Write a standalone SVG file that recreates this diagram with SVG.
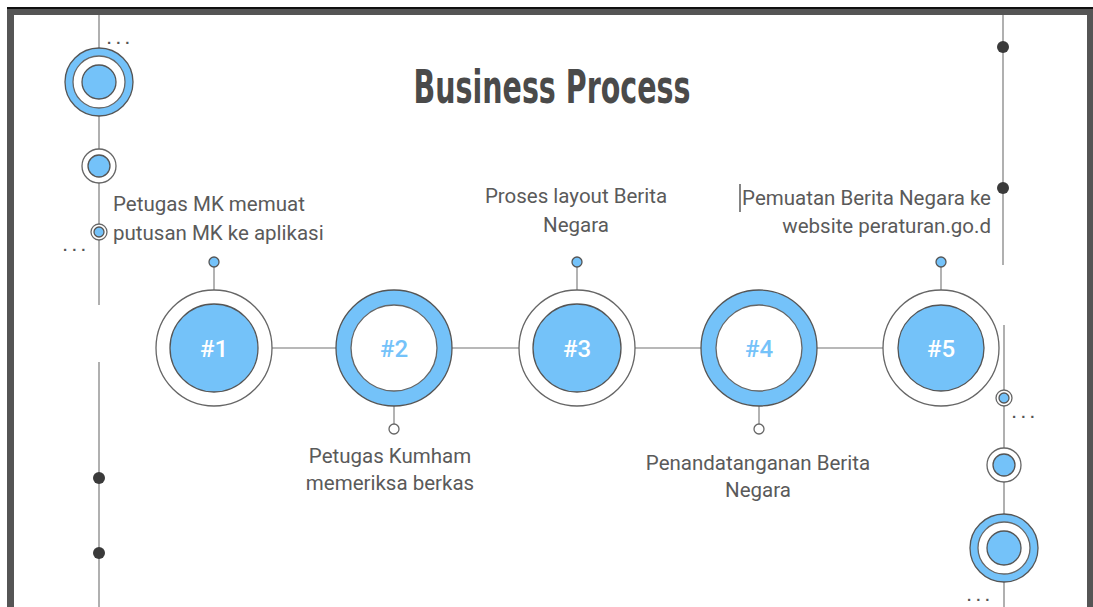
<svg xmlns="http://www.w3.org/2000/svg" width="1093" height="607" viewBox="0 0 1093 607">
  <style>
    .rail { stroke: #b0b0b0; stroke-width: 2; fill: none; }
    .link { stroke: #a0a0a0; stroke-width: 1.6; fill: none; }
    .blue { fill: #74c2f9; stroke: #555; stroke-width: 1.3; }
    .white { fill: #fff; stroke: #666; stroke-width: 1.3; }
    .dot { fill: #3a3a3a; }
    .label { font-family: Roboto, "Liberation Sans", sans-serif; font-size: 20.5px; fill: #5a5a5a; }
    .num { font-family: Roboto, "Liberation Sans", sans-serif; font-size: 24px; font-weight: 500; text-anchor: middle; }
    .ell { font-family: "Liberation Sans", sans-serif; font-size: 15px; font-weight: bold; fill: #555; letter-spacing: 5px; }
  </style>

  <!-- window frame -->
  <rect x="0" y="0" width="1093" height="607" fill="#fff"/>
  <rect x="7" y="7" width="1086" height="600" fill="#555"/>
  <rect x="7" y="7" width="1086" height="2" fill="#111"/>
  <rect x="14" y="15" width="1073" height="592" fill="#fff"/>

  <!-- title -->
  <text x="552" y="103" text-anchor="middle" font-family="'DejaVu Sans Condensed', 'Liberation Sans Narrow', sans-serif" font-size="46" font-weight="bold" fill="#4a4a4a" textLength="277" lengthAdjust="spacingAndGlyphs">Business Process</text>

  <!-- left decoration, upper -->
  <g id="deco-left-top">
    <line class="rail" x1="99" y1="15" x2="99" y2="305"/>
    <text class="ell" x="107" y="44">...</text>
    <circle class="blue" cx="99" cy="82" r="34"/>
    <circle class="white" cx="99" cy="82" r="26"/>
    <circle class="blue" cx="99" cy="82" r="17"/>
    <circle class="white" cx="99" cy="166" r="17"/>
    <circle class="blue" cx="99" cy="166" r="11"/>
    <circle class="white" cx="99" cy="232" r="8"/>
    <circle class="blue" cx="99" cy="232" r="5"/>
    <text class="ell" x="63" y="251">...</text>
  </g>

  <!-- left decoration, lower -->
  <g id="deco-left-bottom">
    <line class="rail" x1="99" y1="362" x2="99" y2="607"/>
    <circle class="dot" cx="99" cy="478" r="6"/>
    <circle class="dot" cx="99" cy="553" r="6"/>
  </g>

  <!-- right decoration, upper -->
  <g id="deco-right-top">
    <line class="rail" x1="1003" y1="15" x2="1003" y2="265"/>
    <circle class="dot" cx="1003" cy="47" r="6"/>
    <circle class="dot" cx="1003" cy="188" r="6"/>
  </g>

  <!-- right decoration, lower -->
  <g id="deco-right-bottom">
    <line class="rail" x1="1004" y1="325" x2="1004" y2="607"/>
    <circle class="white" cx="1004" cy="398" r="8"/>
    <circle class="blue" cx="1004" cy="398" r="5"/>
    <text class="ell" x="1012" y="418">...</text>
    <circle class="white" cx="1004" cy="465" r="17"/>
    <circle class="blue" cx="1004" cy="465" r="11"/>
    <circle class="blue" cx="1004" cy="548" r="34"/>
    <circle class="white" cx="1004" cy="548" r="26"/>
    <circle class="blue" cx="1004" cy="548" r="17"/>
    <text class="ell" x="967" y="601">...</text>
  </g>

  <!-- connectors -->
  <g id="connectors">
    <line class="link" x1="272" y1="348" x2="336" y2="348"/>
    <line class="link" x1="452" y1="348" x2="519" y2="348"/>
    <line class="link" x1="635" y1="348" x2="701" y2="348"/>
    <line class="link" x1="817" y1="348" x2="883" y2="348"/>
    <line class="link" x1="214" y1="290" x2="214" y2="267"/>
    <line class="link" x1="577" y1="290" x2="577" y2="267"/>
    <line class="link" x1="941" y1="290" x2="941" y2="267"/>
    <line class="link" x1="394" y1="406" x2="394" y2="424"/>
    <line class="link" x1="759" y1="406" x2="759" y2="424"/>
  </g>

  <!-- step 1 -->
  <g id="step1">
    <circle class="white" cx="214" cy="348" r="58"/>
    <circle class="blue" cx="214" cy="348" r="44"/>
    <text class="num" x="214" y="357" fill="#fff">#1</text>
    <circle class="blue" cx="214" cy="262" r="5"/>
    <text class="label" x="113" y="211">Petugas MK memuat</text>
    <text class="label" x="113" y="240">putusan MK ke aplikasi</text>
  </g>

  <!-- step 2 -->
  <g id="step2">
    <circle class="blue" cx="394" cy="348" r="58"/>
    <circle class="white" cx="394" cy="348" r="43"/>
    <text class="num" x="394" y="357" fill="#74c2f9">#2</text>
    <circle class="white" cx="394" cy="429" r="5"/>
    <text class="label" x="390" y="463" text-anchor="middle">Petugas Kumham</text>
    <text class="label" x="390" y="490" text-anchor="middle">memeriksa berkas</text>
  </g>

  <!-- step 3 -->
  <g id="step3">
    <circle class="white" cx="577" cy="348" r="58"/>
    <circle class="blue" cx="577" cy="348" r="44"/>
    <text class="num" x="577" y="357" fill="#fff">#3</text>
    <circle class="blue" cx="577" cy="262" r="5"/>
    <text class="label" x="576" y="203" text-anchor="middle">Proses layout Berita</text>
    <text class="label" x="576" y="232" text-anchor="middle">Negara</text>
  </g>

  <!-- step 4 -->
  <g id="step4">
    <circle class="blue" cx="759" cy="348" r="58"/>
    <circle class="white" cx="759" cy="348" r="43"/>
    <text class="num" x="759" y="357" fill="#74c2f9">#4</text>
    <circle class="white" cx="759" cy="429" r="5"/>
    <text class="label" x="758" y="470" text-anchor="middle">Penandatanganan Berita</text>
    <text class="label" x="758" y="497" text-anchor="middle">Negara</text>
  </g>

  <!-- step 5 -->
  <g id="step5">
    <circle class="white" cx="941" cy="348" r="58"/>
    <circle class="blue" cx="941" cy="348" r="43"/>
    <text class="num" x="941" y="357" fill="#fff">#5</text>
    <circle class="blue" cx="941" cy="262" r="5"/>
    <line x1="740" y1="184" x2="740" y2="212" stroke="#333" stroke-width="1.2"/>
    <text class="label" x="991" y="205" text-anchor="end">Pemuatan Berita Negara ke</text>
    <text class="label" x="991" y="233" text-anchor="end">website peraturan.go.d</text>
  </g>
</svg>
